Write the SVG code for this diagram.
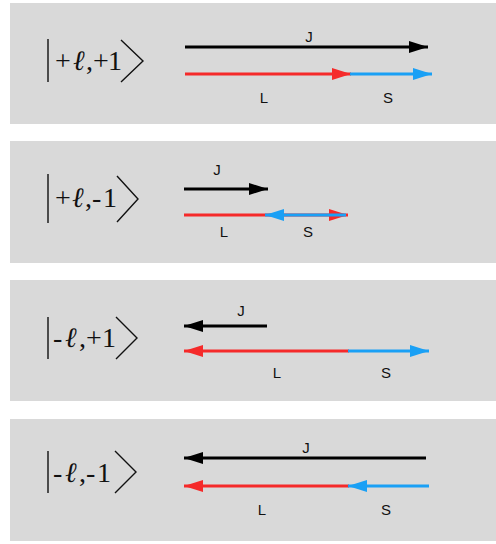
<svg xmlns="http://www.w3.org/2000/svg" width="496" height="544" viewBox="0 0 496 544">
<style>
.panel{fill:#d9d9d9}
.ket{font-family:"Liberation Serif","DejaVu Serif",serif;font-size:28px;fill:#111}
.ell{font-style:italic}
.br{fill:none;stroke:#111;stroke-width:1.4}
.lbl{font-family:"Liberation Sans",Arial,sans-serif;font-size:15px;fill:#111;text-anchor:middle}
.j{stroke:#000;stroke-width:3;fill:none}
.l{stroke:#f52a2a;stroke-width:3;fill:none}
.s{stroke:#1aa0f5;stroke-width:3;fill:none}
</style>
<defs>
<marker id="hk" viewBox="0 0 19 12" refX="19" refY="6" markerWidth="19" markerHeight="12" markerUnits="userSpaceOnUse" orient="auto"><path d="M0,0 L19,6 L0,12 z" fill="#000"/></marker>
<marker id="hr" viewBox="0 0 19 12" refX="19" refY="6" markerWidth="19" markerHeight="12" markerUnits="userSpaceOnUse" orient="auto"><path d="M0,0 L19,6 L0,12 z" fill="#f52a2a"/></marker>
<marker id="hb" viewBox="0 0 19 12" refX="19" refY="6" markerWidth="19" markerHeight="12" markerUnits="userSpaceOnUse" orient="auto"><path d="M0,0 L19,6 L0,12 z" fill="#1aa0f5"/></marker>
</defs>
<rect width="496" height="544" fill="#fff"/>

<g id="panel1">
<rect class="panel" x="10" y="3" width="486" height="121"/>
<path class="br" d="M48,39 V82 M121,40 L143,61 L121,82"/>
<text class="ket" y="70"><tspan x="55">+</tspan><tspan class="ell" x="73">ℓ</tspan><tspan x="86">,</tspan><tspan x="93">+</tspan><tspan x="108">1</tspan></text>
<text class="lbl" x="309" y="42">J</text>
<text class="lbl" x="264" y="103">L</text>
<text class="lbl" x="388" y="103">S</text>
</g>

<g id="panel2">
<rect class="panel" x="10" y="141" width="486" height="122"/>
<path class="br" d="M48,174 V223 M117,176 L138,199 L117,222"/>
<text class="ket" y="207"><tspan x="55">+</tspan><tspan class="ell" x="72">ℓ</tspan><tspan x="85">,</tspan><tspan x="92">-</tspan><tspan x="103">1</tspan></text>
<text class="lbl" x="217" y="175">J</text>
<text class="lbl" x="224" y="237">L</text>
<text class="lbl" x="308" y="237">S</text>
</g>

<g id="panel3">
<rect class="panel" x="10" y="280" width="486" height="121"/>
<path class="br" d="M48,317 V359 M116,317 L137,338 L116,359"/>
<text class="ket" y="347"><tspan x="53">-</tspan><tspan class="ell" x="65">ℓ</tspan><tspan x="79">,</tspan><tspan x="86">+</tspan><tspan x="102">1</tspan></text>
<text class="lbl" x="241" y="316">J</text>
<text class="lbl" x="277" y="378">L</text>
<text class="lbl" x="386" y="378">S</text>
</g>

<g id="panel4">
<rect class="panel" x="10" y="419" width="486" height="122"/>
<path class="br" d="M48,451 V493 M115,451 L136,472 L115,493"/>
<text class="ket" y="482"><tspan x="53">-</tspan><tspan class="ell" x="65">ℓ</tspan><tspan x="79">,</tspan><tspan x="86">-</tspan><tspan x="97">1</tspan></text>
<text class="lbl" x="306" y="453">J</text>
<text class="lbl" x="262" y="515">L</text>
<text class="lbl" x="386" y="515">S</text>
</g>

<g id="connectors">
<line class="j" x1="185" y1="47" x2="428" y2="47" marker-end="url(#hk)"/>
<line class="l" x1="185" y1="74" x2="351" y2="74" marker-end="url(#hr)"/>
<line class="s" x1="350" y1="74" x2="432" y2="74" marker-end="url(#hb)"/>

<line class="j" x1="184" y1="189" x2="268" y2="189" marker-end="url(#hk)"/>
<line class="l" x1="184" y1="215" x2="348" y2="215" marker-end="url(#hr)"/>
<line class="s" x1="346" y1="215" x2="265" y2="215" marker-end="url(#hb)"/>

<line class="j" x1="267" y1="326" x2="184" y2="326" marker-end="url(#hk)"/>
<line class="l" x1="349" y1="351" x2="184" y2="351" marker-end="url(#hr)"/>
<line class="s" x1="348" y1="351" x2="429" y2="351" marker-end="url(#hb)"/>

<line class="j" x1="426" y1="458" x2="184" y2="458" marker-end="url(#hk)"/>
<line class="l" x1="349" y1="486" x2="184" y2="486" marker-end="url(#hr)"/>
<line class="s" x1="429" y1="486" x2="348" y2="486" marker-end="url(#hb)"/>
</g>
</svg>
